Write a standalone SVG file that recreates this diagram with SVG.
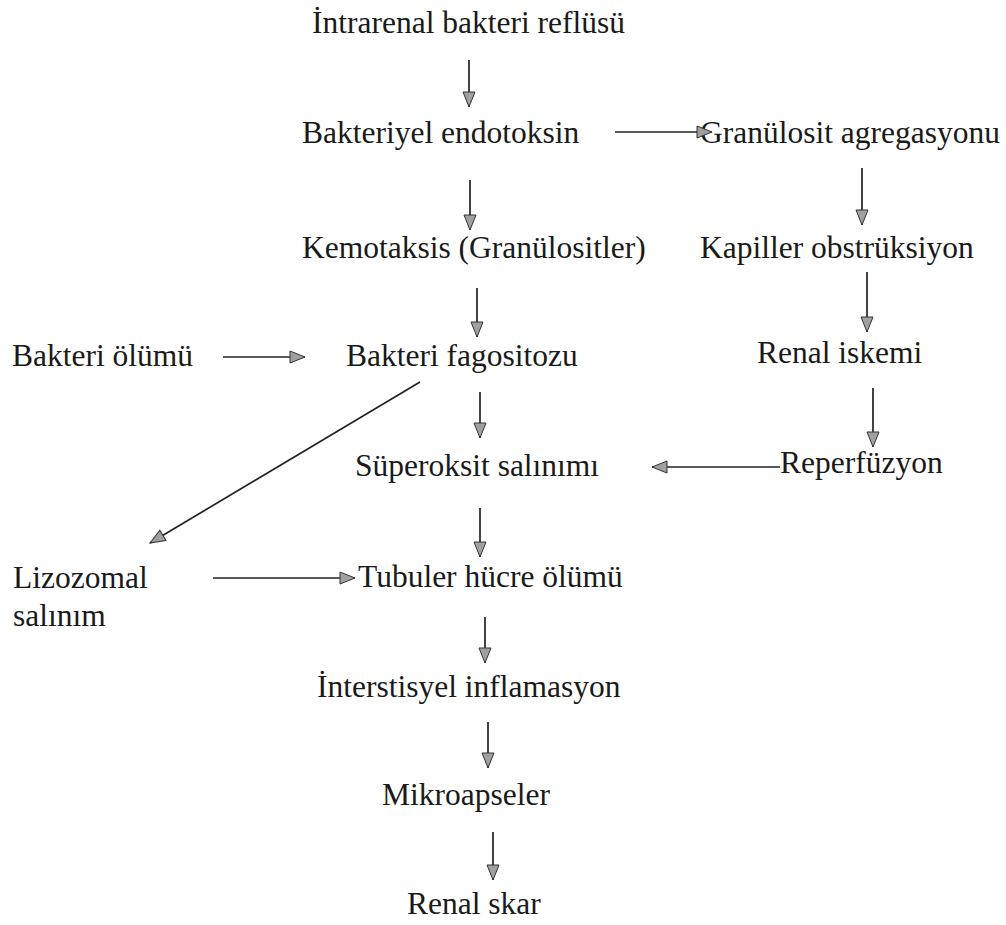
<svg xmlns="http://www.w3.org/2000/svg" width="1006" height="925" viewBox="0 0 1006 925">
<defs>
<marker id="ah" markerUnits="userSpaceOnUse" markerWidth="20" markerHeight="16" refX="16" refY="7" orient="auto">
<path d="M1,1 L16,7 L1,13 Z" fill="#a0a0a0" stroke="#333" stroke-width="1"/>
</marker>
<style>
text{font-family:"Liberation Serif","Times New Roman",serif;font-size:31.5px;fill:#1a1a1a}
.c line{stroke:#222;stroke-width:1.7;marker-end:url(#ah)}
</style>
</defs>
<rect width="1006" height="925" fill="#fff"/>
<g id="n1"><text x="312" y="33">İntrarenal bakteri reflüsü</text></g>
<g id="n2"><text x="302" y="143">Bakteriyel endotoksin</text></g>
<g id="n3"><text x="700" y="143">Granülosit agregasyonu</text></g>
<g id="n4"><text x="302" y="258">Kemotaksis (Granülositler)</text></g>
<g id="n5"><text x="700" y="258">Kapiller obstrüksiyon</text></g>
<g id="n6"><text x="12" y="366">Bakteri ölümü</text></g>
<g id="n7"><text x="346" y="366">Bakteri fagositozu</text></g>
<g id="n8"><text x="757" y="363">Renal iskemi</text></g>
<g id="n9"><text x="355" y="476">Süperoksit salınımı</text></g>
<g id="n10"><text x="780" y="473">Reperfüzyon</text></g>
<g id="n11"><text x="13" y="588">Lizozomal</text><text x="13" y="626">salınım</text></g>
<g id="n12"><text x="358" y="587">Tubuler hücre ölümü</text></g>
<g id="n13"><text x="317" y="697">İnterstisyel inflamasyon</text></g>
<g id="n14"><text x="382" y="805">Mikroapseler</text></g>
<g id="n15"><text x="407" y="914">Renal skar</text></g>
<g id="connectors" class="c">
<line x1="469" y1="60" x2="469" y2="107"/>
<line x1="615" y1="132" x2="712" y2="132"/>
<line x1="470" y1="180" x2="470" y2="230"/>
<line x1="862" y1="168" x2="862" y2="225"/>
<line x1="477" y1="288" x2="477" y2="337"/>
<line x1="867" y1="272" x2="867" y2="332"/>
<line x1="223" y1="357" x2="305" y2="357"/>
<line x1="420" y1="382" x2="150" y2="543"/>
<line x1="480" y1="392" x2="480" y2="438"/>
<line x1="873" y1="388" x2="873" y2="447"/>
<line x1="780" y1="467" x2="652" y2="467"/>
<line x1="480" y1="508" x2="480" y2="557"/>
<line x1="213" y1="578" x2="355" y2="578"/>
<line x1="485" y1="617" x2="485" y2="663"/>
<line x1="488" y1="722" x2="488" y2="768"/>
<line x1="493" y1="832" x2="493" y2="880"/>
</g>
</svg>
